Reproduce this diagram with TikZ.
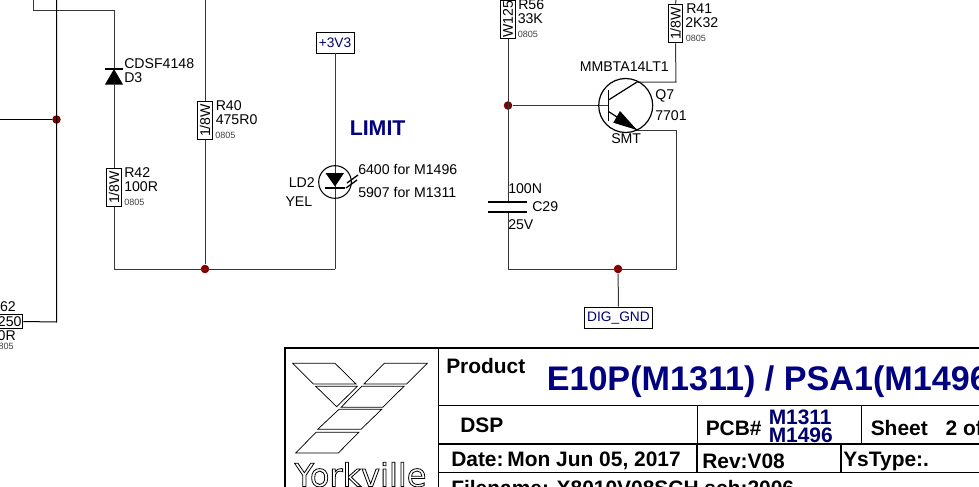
\documentclass[tikz,border=0pt]{standalone}
\usepackage{fontspec}
\setmainfont{Liberation Sans}
\newfontfamily\yorkfont{DejaVu Sans}
\definecolor{navy}{RGB}{0,0,128}
\definecolor{wirec}{RGB}{55,55,55}
\definecolor{dotc}{RGB}{128,0,0}
\newcommand{\partfont}{\fontsize{10.6}{11}\selectfont}
\tikzset{
 wire/.style={draw=wirec,line width=0.75pt},
 bwire/.style={draw=black,line width=0.75pt},
 part/.style={draw=black,fill=white,line width=0.7pt,inner sep=0pt,minimum width=10.7pt,minimum height=29pt},
 hpart/.style={draw=black,fill=white,line width=0.7pt,inner sep=0pt},
 lbl/.style={inner sep=0pt,anchor=west,font=\fontsize{10.6}{11}\selectfont},
 small/.style={inner sep=0pt,anchor=west,font=\fontsize{6.8}{7}\selectfont,text=black!75},
 junct/.style={circle,fill=dotc,draw=none,inner sep=0pt,minimum size=6.4pt},
 port/.style={draw=black,line width=0.7pt,fill=white,inner sep=0pt,text=navy!85!black,font=\fontsize{10.3}{11}\selectfont},
 frame/.style={draw=black,line width=1.1pt},
 tb/.style={inner sep=0pt,anchor=west,font=\bfseries\fontsize{15.7}{16}\selectfont},
 logo/.style={draw=black,line width=0.55pt,fill=white},
}
\begin{document}
\begin{tikzpicture}[x=0.75pt,y=-0.75pt]
\useasboundingbox (0,0) rectangle (979,486);
\clip (0,0) rectangle (979,486);
% coordinates
\coordinate (a0) at (33,0); \coordinate (a1) at (33,10); \coordinate (a2) at (114,10);
\coordinate (b0) at (56.5,0); \coordinate (b1) at (56.5,322);
\coordinate (l0) at (0,119.5);
\coordinate (bl) at (114,269); \coordinate (br) at (335,269);
\coordinate (r40t) at (205,0);
\coordinate (r56t) at (508,0); \coordinate (r41t) at (676,0);
\coordinate (c1) at (676,82); \coordinate (e1) at (676,130);
\coordinate (gl) at (508,269); \coordinate (gr) at (676,269);
% junctions
\node[junct] (j1) at (56.5,119.5) {};
\node[junct] (j2) at (205,269) {};
\node[junct] (j3) at (508,105.5) {};
\node[junct] (j4) at (618,269) {};
% parts
\node[part] (r42) at (114,187.5) {\rotatebox{90}{\partfont 1/8W}};
\node[part] (r40) at (205,120.5) {\rotatebox{90}{\partfont 1/8W}};
\node[part] (r56) at (508,19.5) {\rotatebox{90}{\partfont W125}};
\node[part] (r41) at (675.5,23.5) {\rotatebox{90}{\partfont 1/8W}};
\node[hpart,minimum width=29pt,minimum height=11pt] (r62) at (3.5,321.5) {\makebox[29pt][r]{\partfont 250\hspace{1pt}}};
\node[port,minimum width=28.5pt,minimum height=15.7pt] (p3v3) at (335,42.5) {+3V3};
\node[port,minimum width=51.5pt,minimum height=16pt] (dig) at (618.5,317.8) {DIG\_GND};
\coordinate (d3top) at (114,69); \coordinate (d3bot) at (114,85);
\coordinate (capt) at (508,202); \coordinate (capb) at (508,212);
% wires
\draw[wire] (a0) -- (a1) -- (a2) -- (d3top);
\draw[wire] (d3bot) -- (r42.north);
\draw[wire] (r42.south) -- (bl) -- (br);
\draw[wire] (r40t) -- (r40.north);
\draw[wire] (r40.south) -- (j2);
\draw[wire] (p3v3.south) -- (br);
\draw[bwire] (b0) -- (b1) -- (r62.east);
\draw[bwire] (l0) -- (j1);
\draw[wire] (r56.south) -- (capt);
\draw[wire] (capb) -- (gl) -- (gr) -- (e1) -- (637,130);
\draw[wire] (r41t) -- (r41.north);
\draw[wire] (r41.south) -- (c1) -- (637,82);
\draw[wire] (j3) -- (608.5,105.5);
\draw[wire] (j4) -- (dig.north);
% diode D3
\draw[black,line width=0.9pt] (105,69) -- (123,69);
\fill[black] (114,69) -- (123,84.5) -- (105,84.5) -- cycle;
% LED LD2
\node[draw=black,fill=none,circle,line width=0.8pt,minimum size=24.5pt,inner sep=0pt] (ld2) at (335,182) {};
\fill[black] (325.5,173) -- (344,173) -- (335,186.5) -- cycle;
\draw[black,line width=0.9pt] (325,188) -- (345,188);
\draw[black,line width=1pt] (347,183) -- (358,175);
\draw[black,line width=1pt] (346,188) -- (357,180);
% transistor Q7
\node[draw=black,circle,line width=0.9pt,minimum size=40.5pt,inner sep=0pt] (q7) at (625.7,105.5) {};
\draw[black,line width=0.9pt] (608.5,90) -- (608.5,121);
\draw[black,line width=0.9pt] (608.5,100) -- (637,82);
\draw[black,line width=0.9pt] (608.5,111.5) -- (637,130);
\fill[black] (637,130) -- (613.3,122.7) -- (620,111) -- cycle;
% capacitor
\draw[black,line width=1.1pt] (488,202) -- (527,202);
\draw[black,line width=1.1pt] (488,212) -- (527,212);
% labels
\node[lbl] (t1) at (124,63.5) {CDSF4148};
\node[lbl] (t2) at (124,77.5) {D3};
\node[lbl] (t3) at (215.5,106) {R40};
\node[lbl] (t4) at (215.5,120) {475R0};
\node[small] (t5) at (215,135) {0805};
\node[lbl] (t6) at (124,173) {R42};
\node[lbl] (t7) at (124,187) {100R};
\node[small] (t8) at (124,202) {0805};
\node[lbl,anchor=east] (t9) at (16,307) {62};
\node[lbl,anchor=east] (t10) at (16,336) {0R};
\node[small,anchor=east] (t11) at (14,346) {805};
\node[inner sep=0pt,anchor=west,text=navy,font=\bfseries\fontsize{16}{17}\selectfont] (limit) at (349.5,128) {LIMIT};
\node[lbl] (t12) at (358,169) {6400 for M1496};
\node[lbl] (t13) at (358,192) {5907 for M1311};
\node[lbl,anchor=east] (t14) at (315,183) {LD2};
\node[lbl,anchor=east] (t15) at (312.5,202) {YEL};
\node[lbl] (t16) at (518,5) {R56};
\node[lbl] (t17) at (517.5,19) {33K};
\node[small] (t18) at (517.5,34) {0805};
\node[lbl] (t19) at (686,9) {R41};
\node[lbl] (t20) at (685,23) {2K32};
\node[small] (t21) at (685.5,38) {0805};
\node[lbl] (t22) at (579.5,67) {MMBTA14LT1};
\node[lbl] (t23) at (655,96) {Q7};
\node[lbl] (t24) at (655,115.5) {7701};
\node[lbl] (t25) at (611,139) {SMT};
\node[lbl] (t26) at (508,189) {100N};
\node[lbl] (t27) at (532,207) {C29};
\node[lbl] (t28) at (508,224.5) {25V};
% title block
\draw[frame] (979,348) -- (285,348) -- (285,490);
\draw[frame] (438.5,348) -- (438.5,490);
\draw[frame] (438.5,405.7) -- (979,405.7);
\draw[frame] (438.5,444) -- (979,444);
\draw[frame] (438.5,472.3) -- (979,472.3);
\draw[frame] (697.7,405.7) -- (697.7,444);
\draw[frame] (861.3,405.7) -- (861.3,444);
\draw[frame] (697.2,444) -- (697.2,472.3);
\draw[frame] (841,444) -- (841,472.3);
\node[tb] (product) at (446,366) {Product};
\node[inner sep=0pt,anchor=base west,text=navy,font=\bfseries\fontsize{25.6}{26}\selectfont] (title) at (546.5,390) {E10P(M1311) / PSA1(M1496)};
\node[tb] (dsp) at (460,425.5) {DSP};
\node[tb] (pcb) at (705.5,428) {PCB\#};
\node[tb,text=navy!85!black] (m1) at (768.5,417) {M1311};
\node[tb,text=navy!85!black] (m2) at (768.5,435) {M1496};
\node[tb] (sheet) at (870.5,428) {Sheet\hspace{0.85em}2 of};
\node[tb] (date) at (451,461) {Date:\hspace{0.18em}Mon Jun 05, 2017};
\node[tb] (rev) at (702,461) {Rev:V08};
\node[tb] (ys) at (843,461) {YsType:.};
\node[tb,anchor=base west] (file) at (451,495.5) {Filename: X8010V08SCH.sch:2006};
% logo
\draw[logo] (292.7,363.3) -- (335,363.3) -- (356,384) -- (313.3,384) -- cycle;
\draw[logo] (384.3,363.3) -- (427.3,363.3) -- (406.7,384) -- (364,384) -- cycle;
\draw[logo] (315.7,386.3) -- (357.3,386.3) -- (336.7,406.7) -- cycle;
\draw[logo] (361.7,386.3) -- (404,386.3) -- (382.7,407.3) -- (341,407.3) -- cycle;
\draw[logo] (339,409.3) -- (381.7,409.3) -- (361,429.3) -- (317.7,429.3) -- cycle;
\draw[logo] (316,432.3) -- (358.7,432.3) -- (338.3,453) -- (295.7,453) -- cycle;
\node[inner sep=0pt,anchor=base,font=\yorkfont\fontsize{24}{25}\selectfont] (york) at (360.5,486.5) {\special{pdf:code q 1 Tr 0.6 w}Yorkville\special{pdf:code Q}};
\end{tikzpicture}
\end{document}
